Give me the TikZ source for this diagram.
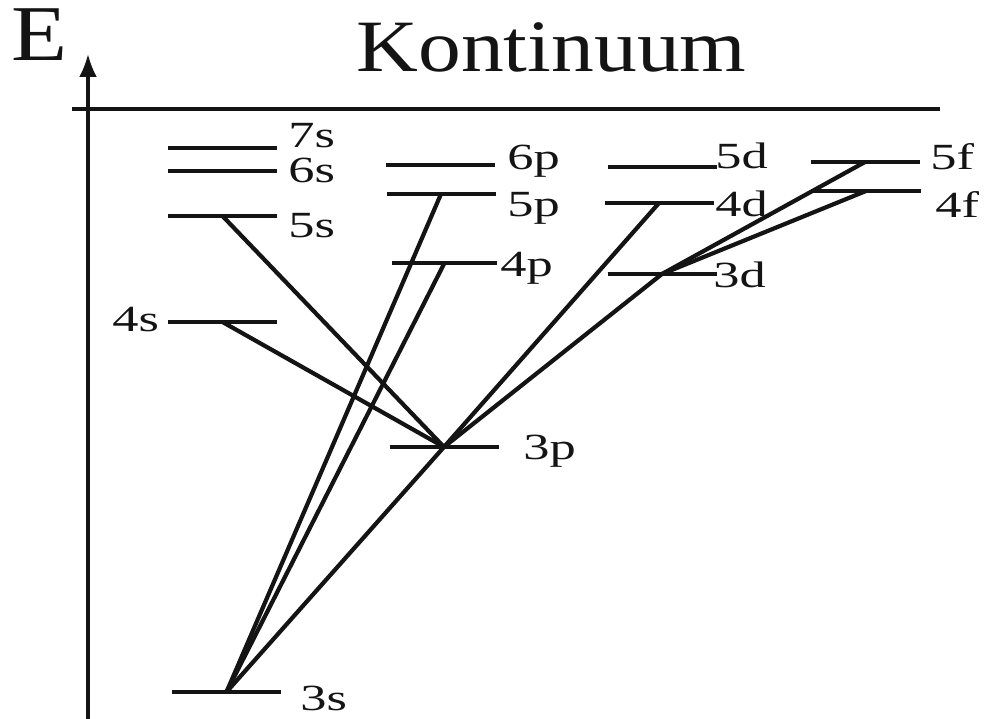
\documentclass[tikz,border=0pt]{standalone}
\usepackage{fontspec}
\usepackage{tikz}
\usetikzlibrary{arrows.meta, positioning, calc}
\newfontfamily\titlefont[FakeStretch=1.16]{Liberation Serif}
\newfontfamily\termfont[FakeStretch=1.42]{Liberation Serif}
\definecolor{mydark}{RGB}{20,20,20}
\tikzset{
  level/.style={rectangle, minimum width=2.18cm, minimum height=0pt,
    inner sep=0pt, outer sep=0pt},
  bar/.style={line width=2.6pt, color=mydark},
  term/.style={inner sep=0pt, anchor=base west, color=mydark,
    font=\termfont\fontsize{21}{25}\selectfont},
  title/.style={inner sep=0pt, color=mydark,
    font=\titlefont\fontsize{42}{46}\selectfont},
  trans/.style={line width=2.4pt, color=mydark},
  axis/.style={-{Latex[length=4.6mm,width=3.6mm]}, line width=1.9pt, color=mydark},
  line/.style={line width=2pt, color=mydark}
}
\begin{document}
\begin{tikzpicture}
  \useasboundingbox (0,0) rectangle (19.74,14.38);

  % energy axis and continuum limit
  \coordinate (axbot) at (1.76,0);
  \coordinate (axtop) at (1.76,13.3);
  \draw[axis] (axbot) -- (axtop);
  \coordinate (kleft) at (1.44,12.2);
  \coordinate (kright) at (18.8,12.2);
  \draw[line] (kleft) -- (kright);
  \node[title, anchor=base west, font=\titlefont\fontsize{45}{48}\selectfont] (E) at (0.22,13.16) {E};
  \node[title, anchor=base] (kont) at (11.03,12.94) {Kontinuum};

  % terms
  \node[level] (s7) at (4.45,11.42) {};
  \node[level] (s6) at (4.45,10.96) {};
  \node[level] (s5) at (4.45,10.06) {};
  \node[level] (s4) at (4.45,7.94) {};
  \node[level] (s3) at (4.53,0.54) {};
  \node[level] (p6) at (8.80,11.08) {};
  \node[level] (p5) at (8.82,10.50) {};
  \node[level, minimum width=2.1cm] (p4) at (8.89,9.12) {};
  \node[level] (p3) at (8.88,5.44) {};
  \node[level] (d5) at (13.24,11.04) {};
  \node[level] (d4) at (13.18,10.32) {};
  \node[level] (d3) at (13.24,8.90) {};
  \node[level] (f5) at (17.30,11.14) {};
  \node[level] (f4) at (17.32,10.56) {};
  \foreach \n in {s7,s6,s5,s4,s3,p6,p5,p4,p3,d5,d4,d3,f5,f4}
    \draw[bar] (\n.west) -- (\n.east);

  % transitions
  \foreach \a/\b in {s3/p3, s3/p4, s3/p5, p3/s4, p3/s5, p3/d3, p3/d4, d3/f4, d3/f5}
    \draw[trans] (\a.center) -- (\b.center);

  % labels
  \node[term] (ls7) at (5.76,11.42) {7s};
  \node[term] (ls6) at (5.76,10.72) {6s};
  \node[term] (ls5) at (5.76,9.62) {5s};
  \node[term] (ls4) at (2.24,7.74) {4s};
  \node[term] (ls3) at (6.00,0.16) {3s};
  \node[term] (lp6) at (10.14,10.98) {6p};
  \node[term] (lp5) at (10.14,10.04) {5p};
  \node[term] (lp4) at (10.00,8.84) {4p};
  \node[term] (lp3) at (10.46,5.18) {3p};
  \node[term] (ld5) at (14.30,11.00) {5d};
  \node[term] (ld4) at (14.30,10.04) {4d};
  \node[term] (ld3) at (14.26,8.62) {3d};
  \node[term] (lf5) at (18.60,10.98) {5f};
  \node[term] (lf4) at (18.70,10.02) {4f};
\end{tikzpicture}
\end{document}
